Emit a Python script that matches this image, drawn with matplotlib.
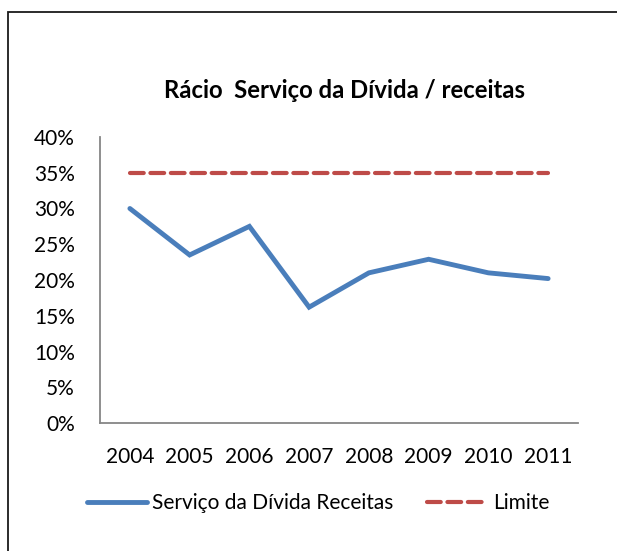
import matplotlib
matplotlib.use("Agg")
import matplotlib.pyplot as plt
from matplotlib.patches import Rectangle
from matplotlib.ticker import FuncFormatter, MultipleLocator

years = ["2004", "2005", "2006", "2007", "2008", "2009", "2010", "2011"]
servico = [0.300, 0.235, 0.275, 0.162, 0.210, 0.229, 0.210, 0.202]
limite = [0.35, 0.35, 0.35, 0.35, 0.35, 0.35, 0.35, 0.35]
title = "Rácio  Serviço da Dívida / receitas"
labels = ["Serviço da Dívida Receitas", "Limite"]

plt.rcParams['font.family'] = ['Lato', 'DejaVu Sans']

W, H = 617, 551
fig = plt.figure(figsize=(W / 100, H / 100), dpi=100)
fig.patch.set_facecolor("white")

# outer chart frame (cut off at right and bottom)
fig.patches.append(Rectangle((8 / W, -0.05), 1.2, (H - 12) / H + 0.05,
                             transform=fig.transFigure, fill=False,
                             edgecolor="#1a1a1a", linewidth=1.3))

ax = fig.add_axes([100 / W, 128 / H, 478 / W, 286 / H])
x = list(range(len(years)))
l1, = ax.plot(x, servico, color="#4A7EBB", linewidth=3.5, solid_capstyle="round",
              solid_joinstyle="miter")
l2, = ax.plot(x, limite, color="#BE4B48", linewidth=3.0, linestyle=(0, (3.3, 1.6)),
              dash_capstyle="round")

ax.set_xlim(-0.5, len(years) - 0.5)
ax.set_ylim(0, 0.40)
ax.yaxis.set_major_locator(MultipleLocator(0.05))
ax.yaxis.set_major_formatter(FuncFormatter(lambda v, p: f"{round(v * 100)}%"))
ax.set_xticks(x)
ax.set_xticklabels(years)
ax.tick_params(axis="both", length=0, labelsize=15, colors="#000000")
ax.tick_params(axis="y", pad=18)
ax.tick_params(axis="x", pad=17)
for s in ["top", "right"]:
    ax.spines[s].set_visible(False)
for s in ["left", "bottom"]:
    ax.spines[s].set_color("#868686")
    ax.spines[s].set_linewidth(1.3)

fig.text(345 / W, 1 - 90 / H, title, ha="center", va="center",
         fontsize=17.2, fontweight="bold")

fig.legend([l1, l2], labels, loc="center", bbox_to_anchor=(318 / W, 1 - 503 / H),
           ncol=2, frameon=False, fontsize=15, handlelength=2.9,
           handletextpad=0.25, columnspacing=1.6)

fig.savefig("out.png", dpi=100, facecolor="white")
